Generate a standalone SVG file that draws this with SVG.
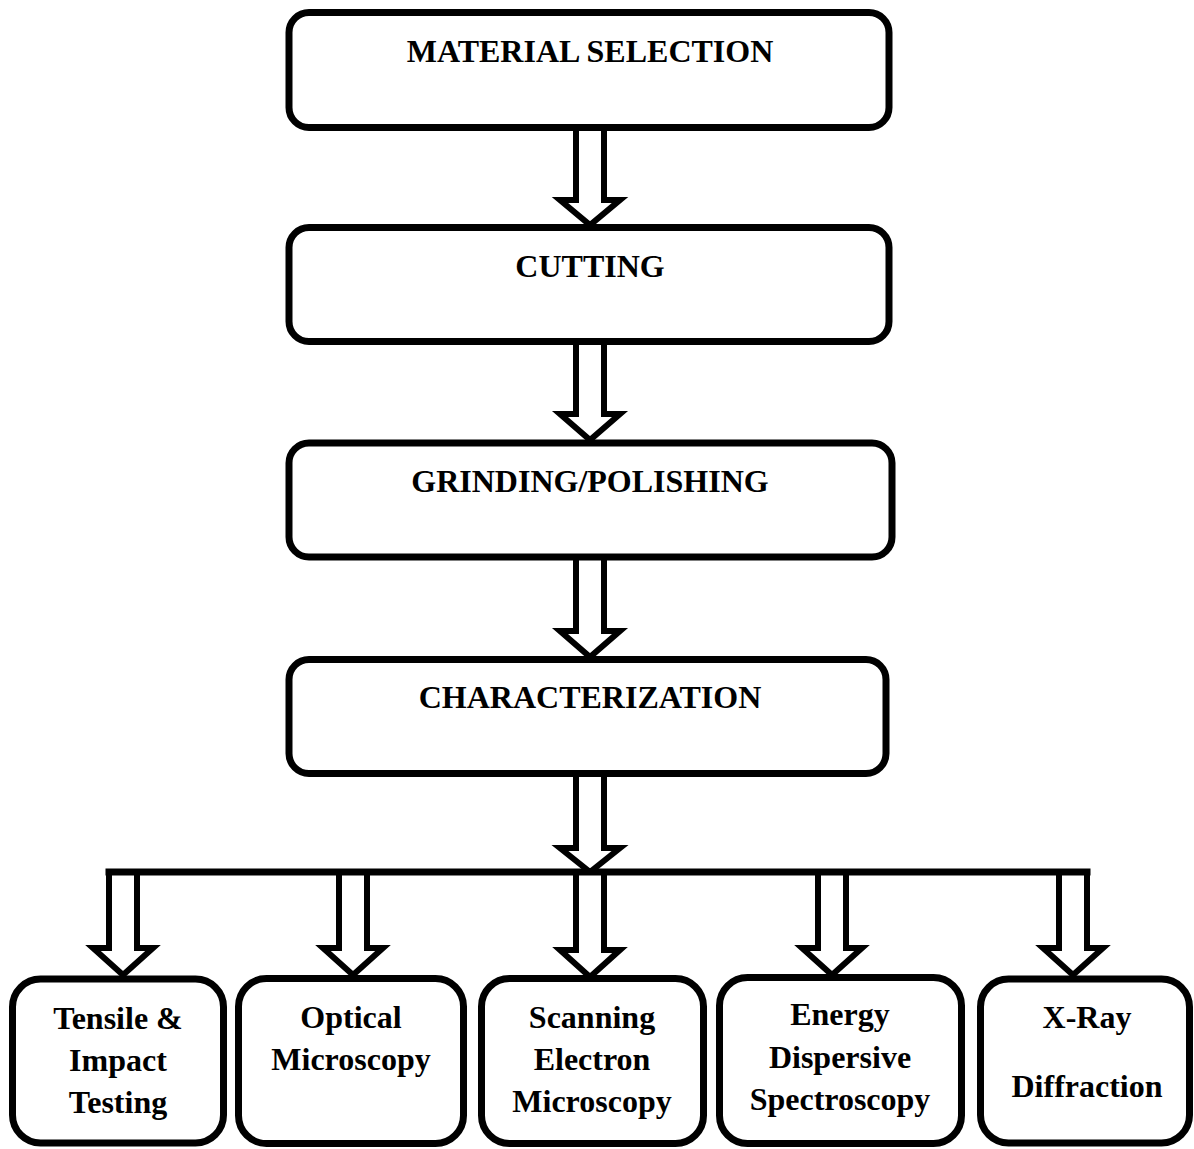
<svg xmlns="http://www.w3.org/2000/svg" width="1194" height="1149" viewBox="0 0 1194 1149">
<style>
.box{fill:#fff;stroke:#000;stroke-width:7}
.arr{fill:#fff;stroke:#000;stroke-width:6;stroke-linejoin:miter}
.t{font-family:"Liberation Serif","Times New Roman",serif;font-weight:bold;font-size:32px;fill:#000;text-anchor:middle}
</style>
<rect width="1194" height="1149" fill="#fff"/>
<g id="connectors">
<path class="arr" d="M576,122 V200 H560 L590,225 L620,200 H604 V122 Z"/>
<path class="arr" d="M576,338 V414 H560 L590,440 L620,414 H604 V338 Z"/>
<path class="arr" d="M576,554 V631 H560 L590,657 L620,631 H604 V554 Z"/>
<path class="arr" d="M576,771 V848 H560 L590,872 L620,848 H604 V771 Z"/>
<path class="arr" d="M109,872 V948 H93 L123,975 L153,948 H137 V872"/>
<path class="arr" d="M339,872 V948 H323 L353,975 L383,948 H367 V872"/>
<path class="arr" d="M576,872 V950 H560 L590,977 L620,950 H604 V872"/>
<path class="arr" d="M818,872 V948 H802 L832,975 L862,948 H846 V872"/>
<path class="arr" d="M1059,872 V948 H1043 L1073,975 L1103,948 H1087 V872"/>
<line x1="109" y1="872" x2="1087" y2="872" stroke="#000" stroke-width="7" stroke-linecap="square"/>
</g>
<g id="n1"><rect class="box" x="289" y="12.5" width="600" height="115" rx="20"/><text class="t" x="590" y="62">MATERIAL SELECTION</text></g>
<g id="n2"><rect class="box" x="289" y="227.5" width="600" height="114" rx="20"/><text class="t" x="590" y="277">CUTTING</text></g>
<g id="n3"><rect class="box" x="289" y="443" width="603" height="114" rx="20"/><text class="t" x="590" y="492">GRINDING/POLISHING</text></g>
<g id="n4"><rect class="box" x="289" y="659.5" width="597" height="114" rx="20"/><text class="t" x="590" y="708">CHARACTERIZATION</text></g>
<g id="n5"><rect class="box" x="12.5" y="979" width="211" height="164" rx="28"/><text class="t" x="118" y="1029">Tensile &amp;</text><text class="t" x="118" y="1071">Impact</text><text class="t" x="118" y="1113">Testing</text></g>
<g id="n6"><rect class="box" x="238.5" y="978.5" width="225" height="165" rx="28"/><text class="t" x="351" y="1028">Optical</text><text class="t" x="351" y="1070">Microscopy</text></g>
<g id="n7"><rect class="box" x="481.5" y="978.5" width="222" height="165" rx="28"/><text class="t" x="592" y="1028">Scanning</text><text class="t" x="592" y="1070">Electron</text><text class="t" x="592" y="1112">Microscopy</text></g>
<g id="n8"><rect class="box" x="719.5" y="977.5" width="242" height="166" rx="28"/><text class="t" x="840" y="1025">Energy</text><text class="t" x="840" y="1068">Dispersive</text><text class="t" x="840" y="1110">Spectroscopy</text></g>
<g id="n9"><rect class="box" x="980.5" y="979" width="209" height="164" rx="28"/><text class="t" x="1087" y="1028">X-Ray</text><text class="t" x="1087" y="1097">Diffraction</text></g>
</svg>
